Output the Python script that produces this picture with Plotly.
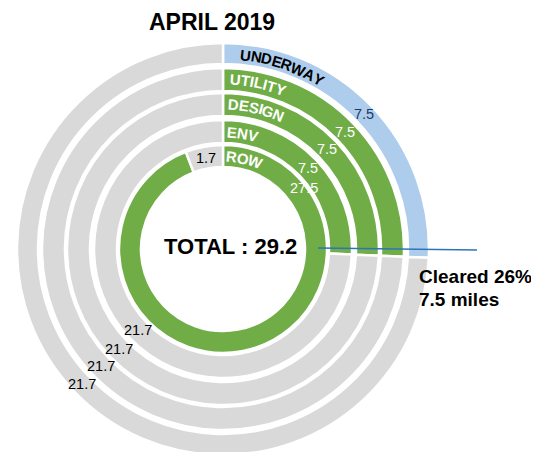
import math
import plotly.graph_objects as go

# ---------------- data ----------------
rings = ["UNDERWAY", "UTILITY", "DESIGN", "ENV", "ROW"]
done_values = [7.5, 7.5, 7.5, 7.5, 27.5]
remaining_values = [21.7, 21.7, 21.7, 21.7, 1.7]
total_miles = 29.2
cleared_pct = 26
cleared_miles = 7.5
title_text = "APRIL 2019"

# ---------------- style / layout ----------------
W, H = 531, 452          # figure size (page body has an 8px margin)
OFF = 8                  # page offset of the figure
CX, CY = 223, 249        # ring centre in page pixels
ring_outer = [206, 181, 156, 129, 104]
ring_inner = [185, 158, 133, 106, 82]
done_colors = ["#aecdec", "#70ad47", "#70ad47", "#70ad47", "#70ad47"]
done_text_colors = ["#1f3864", "white", "white", "white", "white"]
gray = "#d9d9d9"
label_colors = ["black", "white", "white", "white", "white"]
label_radius = [195, 170, 145, 117, 93]
label_start = [5.0, 2.4, 2.0, 2.0, 2.0]
FONT = "Liberation Sans, Arial, sans-serif"
LABEL_SIZE = 15
NUM_SIZE = 14.5

CHAR_W = {"U": .722, "N": .722, "D": .722, "E": .667, "R": .722, "W": .944,
          "A": .722, "Y": .667, "T": .611, "I": .278, "L": .611, "S": .667,
          "G": .778, "O": .778, "V": .667}


def px(x):
    return (x - OFF) / W


def py(y):
    return 1 - (y - OFF) / H


def polar_pt(r, theta_deg):
    th = math.radians(theta_deg)
    return CX + r * math.sin(th), CY - r * math.cos(th)


fig = go.Figure()
annotations = []
for i, name in enumerate(rings):
    R = ring_outer[i]
    cxf, cyf = CX - OFF, CY - OFF
    dom_x = [max(0, (cxf - R) / W), min(1, (cxf + R) / W)]
    dom_y = [max(0, (H - cyf - R) / H), min(1, (H - cyf + R) / H)]
    vals = [done_values[i], remaining_values[i]]
    fig.add_trace(go.Pie(
        values=vals,
        labels=[f"{name} done", f"{name} remaining"],
        textinfo="none",
        marker=dict(colors=[done_colors[i], gray], line=dict(color="white", width=2.5)),
        hole=ring_inner[i] / R,
        domain=dict(x=dom_x, y=dom_y),
        sort=False,
        direction="clockwise",
        rotation=0,
        showlegend=False,
        hoverinfo="label+value",
    ))
    # value labels at the middle angle of each slice
    tot = sum(vals)
    rmid = (ring_outer[i] + ring_inner[i]) / 2
    start = 0.0
    for j, v in enumerate(vals):
        mid = (start + v / 2) / tot * 360
        start += v
        if name == "ROW" and j == 0:
            continue  # placed by hand below, as in the reference
        x, y = polar_pt(rmid, mid)
        annotations.append(dict(
            x=px(x), y=py(y), xref="paper", yref="paper", text=f"{v:g}",
            showarrow=False, xanchor="center", yanchor="middle",
            font=dict(family=FONT, size=NUM_SIZE,
                      color=done_text_colors[i] if j == 0 else "black"),
        ))

# curved ring labels, one character at a time along the arc
for i, name in enumerate(rings):
    r = label_radius[i]
    s = 0.0
    for ch in name:
        w = CHAR_W.get(ch, 0.7) * LABEL_SIZE
        th = math.degrees(math.radians(label_start[i]) + (s + w / 2) / r)
        x, y = polar_pt(r, th)
        annotations.append(dict(
            x=px(x), y=py(y), xref="paper", yref="paper", text=f"<b>{ch}</b>",
            textangle=th, showarrow=False,
            xanchor="center", yanchor="middle",
            font=dict(family=FONT, size=LABEL_SIZE, color=label_colors[i]),
        ))
        s += w

annotations += [
    dict(x=px(212), y=py(22), text=f"<b>{title_text}</b>", showarrow=False,
         xref="paper", yref="paper", xanchor="center", yanchor="middle",
         font=dict(family=FONT, size=23, color="black")),
    dict(x=px(230), y=py(246), text=f"<b>TOTAL : {total_miles:g}</b>", showarrow=False,
         xref="paper", yref="paper", xanchor="center", yanchor="middle",
         font=dict(family=FONT, size=22, color="black")),
    dict(x=px(304), y=py(188), text=f"{done_values[-1]:g}", showarrow=False,
         xref="paper", yref="paper", xanchor="center", yanchor="middle",
         font=dict(family=FONT, size=NUM_SIZE, color="white")),
    dict(x=px(417), y=py(276), text=f"<b>Cleared {cleared_pct}%</b>", showarrow=False,
         xref="paper", yref="paper", xanchor="left", yanchor="middle",
         font=dict(family=FONT, size=19, color="black")),
    dict(x=px(417), y=py(299), text=f"<b>{cleared_miles:g} miles</b>", showarrow=False,
         xref="paper", yref="paper", xanchor="left", yanchor="middle",
         font=dict(family=FONT, size=19, color="black")),
]

fig.update_layout(
    width=W, height=H,
    margin=dict(l=0, r=0, t=0, b=0),
    paper_bgcolor="white", plot_bgcolor="white",
    annotations=annotations,
    shapes=[dict(type="line", xref="paper", yref="paper",
                 x0=px(318), y0=py(248), x1=px(477), y1=py(250),
                 line=dict(color="#2e75b6", width=1.5))],
)

fig.write_html("out.html")
